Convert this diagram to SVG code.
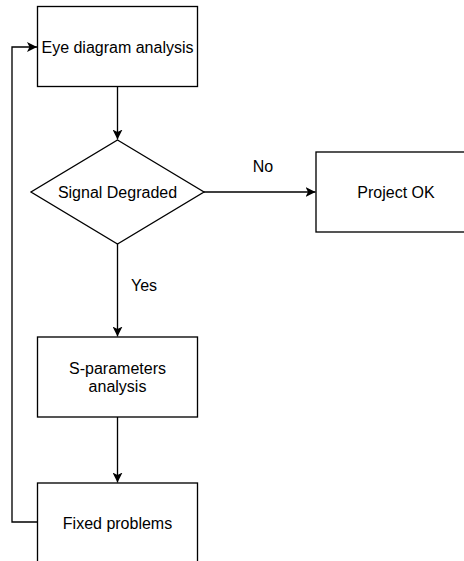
<svg xmlns="http://www.w3.org/2000/svg" width="464" height="561" viewBox="0 0 464 561">
<style>
.node{fill:#ffffff;stroke:#000000;stroke-width:1.33}
.lbl{font-family:"Liberation Sans",Arial,Helvetica,sans-serif;font-size:16px;fill:#000000;text-anchor:middle;dominant-baseline:central}
.edge{fill:none;stroke:#000000;stroke-width:1.33}
</style>
<defs>
<marker id="arr" viewBox="0 0 10 10" refX="10" refY="5" markerWidth="10" markerHeight="10" markerUnits="userSpaceOnUse" orient="auto">
<path d="M0,0 L10,5 L0,10 L2.5,5 Z" fill="#000000"/>
</marker>
</defs>
<rect width="464" height="561" fill="#ffffff"/>
<g id="connectors">
<path class="edge" d="M117.5,86.5 L117.5,139.5" marker-end="url(#arr)"/>
<path class="edge" d="M204,192 L315.5,192" marker-end="url(#arr)"/>
<path class="edge" d="M117.5,244 L117.5,336.5" marker-end="url(#arr)"/>
<path class="edge" d="M117.5,417 L117.5,482.5" marker-end="url(#arr)"/>
<path class="edge" d="M37.5,522 L12,522 L12,47 L37,47" marker-end="url(#arr)"/>
<text class="lbl" x="263" y="166">No</text>
<text class="lbl" x="144" y="285">Yes</text>
</g>
<g id="eye">
<rect class="node" x="37.5" y="6.5" width="160" height="80"/>
<text class="lbl" x="117.5" y="47">Eye diagram analysis</text>
</g>
<g id="signal">
<polygon class="node" points="117.5,140 204,192 117.5,244 31,192"/>
<text class="lbl" x="117.5" y="192">Signal Degraded</text>
</g>
<g id="projectok">
<rect class="node" x="316" y="152" width="160" height="80"/>
<text class="lbl" x="396" y="192">Project OK</text>
</g>
<g id="sparams">
<rect class="node" x="37.5" y="337" width="160" height="80"/>
<text class="lbl" x="117.5" y="368">S-parameters</text>
<text class="lbl" x="117.5" y="386">analysis</text>
</g>
<g id="fixed">
<rect class="node" x="37.5" y="483" width="160" height="80"/>
<text class="lbl" x="117.5" y="523">Fixed problems</text>
</g>
</svg>
